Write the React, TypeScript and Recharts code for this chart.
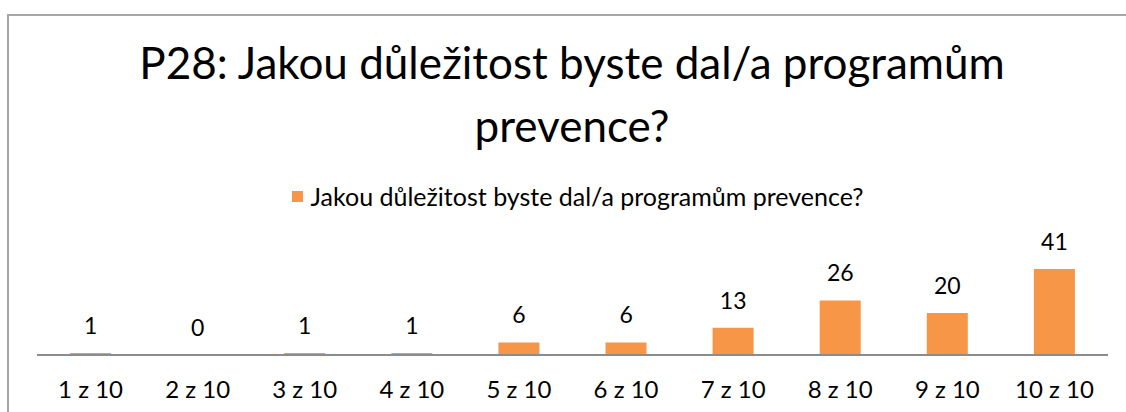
import { ComposedChart, Bar, Line, XAxis, YAxis, LabelList, Legend } from "recharts";

const categories = ["1 z 10", "2 z 10", "3 z 10", "4 z 10", "5 z 10", "6 z 10", "7 z 10", "8 z 10", "9 z 10", "10 z 10"];
const counts = [1, 0, 1, 1, 6, 6, 13, 26, 20, 41];
const seriesName = "Jakou důležitost byste dal/a programům prevence?";
const titleLines = ["P28: Jakou důležitost byste dal/a programům", "prevence?"];

const data = categories.map((c, i) => ({ name: c, value: counts[i] }));

const FONT = "Lato, 'Open Sans', sans-serif";
const ORANGE = "#F79646";

export default function App() {
    return (
        <div style={{ position: "absolute", left: 0, top: 0, width: 1126, height: 412, overflow: "hidden", background: "#fff", fontFamily: FONT }}>
            {/* chart frame, clipped at right and bottom like the screenshot */}
            <div style={{ position: "absolute", left: 7, top: 14, width: 1200, height: 500, borderLeft: "2px solid #a6a6a6", borderTop: "2px solid #a6a6a6" }} />
            <div style={{ position: "absolute", left: 0, top: 31, width: 1144, textAlign: "center", fontSize: 44, lineHeight: "63px", color: "#000" }}>
                {titleLines.map((t) => <div key={t}>{t}</div>)}
            </div>
            <div style={{ position: "absolute", left: 0, top: 0 }}>
                <ComposedChart width={1126} height={412} data={data} margin={{ top: 229, right: 18, left: 37, bottom: 17 }}>
                    <YAxis hide domain={[0, 60]} />
                    <XAxis
                        dataKey="name"
                        axisLine={{ stroke: "#8c8c8c", strokeWidth: 2 }}
                        tickLine={false}
                        tickSize={0}
                        tickMargin={26}
                        height={40}
                        interval={0}
                        tick={{ fill: "#000", fontSize: 24, fontFamily: FONT }}
                    />
                    <Legend
                        layout="horizontal"
                        verticalAlign="middle"
                        align="center"
                        wrapperStyle={{ top: 181, left: 0, width: 1126 }}
                        content={() => (
                            <div style={{ display: "flex", justifyContent: "center", alignItems: "center", fontFamily: FONT, fontSize: 25, color: "#000", paddingLeft: 29 }}>
                                <span style={{ width: 11, height: 11, background: ORANGE, display: "inline-block", marginRight: 8 }} />
                                <span>{seriesName}</span>
                            </div>
                        )}
                    />
                    <Bar dataKey="value" name={seriesName} fill={ORANGE} barSize={41} isAnimationActive={false} />
                    {/* invisible line carries the value labels so that the 0 gets one too */}
                    <Line dataKey="value" stroke="none" dot={false} activeDot={false} legendType="none" isAnimationActive={false}>
                        <LabelList dataKey="value" position="top" offset={19} fill="#000" fontSize={23} fontFamily={FONT} />
                    </Line>
                </ComposedChart>
            </div>
        </div>
    );
}
